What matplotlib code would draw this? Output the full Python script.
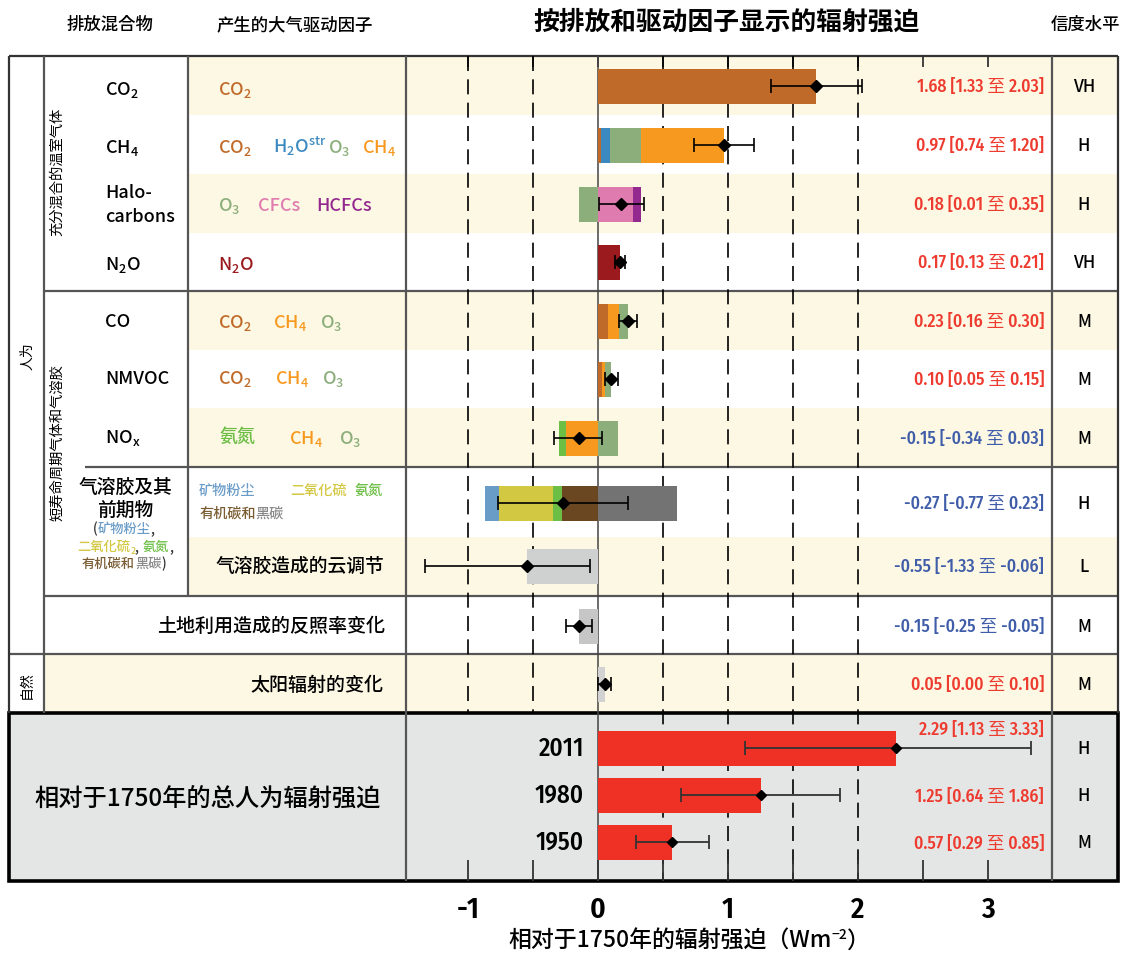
import numpy as np
import matplotlib
matplotlib.use('Agg')
import matplotlib.pyplot as plt
from matplotlib.patches import Rectangle
from matplotlib.ticker import FixedLocator, FixedFormatter
from matplotlib import font_manager

plt.rcParams['font.family'] = ['Noto Sans CJK SC', 'DejaVu Sans']
plt.rcParams['mathtext.fontset'] = 'custom'
plt.rcParams['mathtext.rm'] = 'Noto Sans CJK SC'
plt.rcParams['mathtext.it'] = 'Noto Sans CJK SC'
plt.rcParams['mathtext.bf'] = 'Noto Sans CJK SC:bold'
plt.rcParams['axes.unicode_minus'] = False

_names = {f.name for f in font_manager.fontManager.ttflist}
MEDF = ['Noto Sans CJK JP', 'Noto Sans CJK SC', 'DejaVu Sans']
CONDF = (['Fira Sans Condensed'] if 'Fira Sans Condensed' in _names else []) + \
    ['Noto Sans CJK SC', 'Noto Sans CJK JP', 'DejaVu Sans']
MW = 500

# ---------------- data ----------------
row_names = ['CO2', 'CH4', 'Halocarbons', 'N2O', 'CO', 'NMVOC', 'NOx',
             'Aerosols', 'Cloud', 'Albedo', 'Solar']
best = [1.68, 0.97, 0.18, 0.17, 0.23, 0.10, -0.15, -0.27, -0.55, -0.15, 0.05]
low = [1.33, 0.74, 0.01, 0.13, 0.16, 0.05, -0.34, -0.77, -1.33, -0.25, 0.00]
high = [2.03, 1.20, 0.35, 0.21, 0.30, 0.15, 0.03, 0.23, -0.06, -0.05, 0.10]
confidence = ['VH', 'H', 'H', 'VH', 'M', 'M', 'M', 'H', 'L', 'M', 'M']

# stacked components, listed left to right
comp_co2 = [1.68]
comp_ch4 = [0.02, 0.07, 0.24, 0.64]          # CO2, H2Ostr, O3, CH4
comp_halo = [-0.15, 0.27, 0.06]              # O3, CFCs, HCFCs
comp_n2o = [0.17]
comp_co = [0.08, 0.08, 0.07]                 # CO2, CH4, O3
comp_nmvoc = [0.03, 0.025, 0.045]            # CO2, CH4, O3
comp_nox = [-0.05, -0.25, 0.15]              # nitrate, CH4, O3
comp_aer = [-0.11, -0.41, -0.07, -0.28, 0.61]  # dust, sulphate, nitrate, OC, BC
comp_cloud = [-0.55]
comp_albedo = [-0.15]
comp_solar = [0.05]
components = [comp_co2, comp_ch4, comp_halo, comp_n2o, comp_co, comp_nmvoc,
              comp_nox, comp_aer, comp_cloud, comp_albedo, comp_solar]

years = ['2011', '1980', '1950']
total_best = [2.29, 1.25, 0.57]
total_low = [1.13, 0.64, 0.29]
total_high = [3.33, 1.86, 0.85]
total_conf = ['H', 'H', 'M']

tick_values = [-1, 0, 1, 2, 3]
tick_labels = ['-1', '0', '1', '2', '3']

# ---------------- styles ----------------
C_CO2 = '#C06A29'
C_H2O = '#3A89C0'
C_O3 = '#8BAE7B'
C_CH4 = '#F7991F'
C_CFC = '#E07BB0'
C_HCFC = '#93288F'
C_N2O = '#9A1A1E'
C_NIT = '#6CBE45'
C_DUST = '#6A9CC8'
C_SUL = '#D3C842'
C_OC = '#6B4721'
C_BC = '#737373'
comp_colors = [[C_CO2], [C_CO2, C_H2O, C_O3, C_CH4], [C_O3, C_CFC, C_HCFC], [C_N2O],
               [C_CO2, C_CH4, C_O3], [C_CO2, C_CH4, C_O3], [C_NIT, C_CH4, C_O3],
               [C_DUST, C_SUL, C_NIT, C_OC, C_BC], ['#CFD0D0'], ['#C6C6C6'], ['#D2D2D2']]
RED_T = '#EE3B2F'
BLUE_T = '#3F5DA8'
CREAM = '#FDF8E3'
PANEL = '#E4E5E5'
LINEC = '#555555'

W, H = 1124, 954
row_edges = [57, 116, 175, 234, 292, 351, 409, 468, 538, 597, 655, 714]
row_y = [87, 146, 205, 263, 322, 380, 439, 504, 567, 627, 685]
year_y = [749, 796, 843]
X0, PXU = 598, 130.0

fig = plt.figure(figsize=(W / 100, H / 100), dpi=100)
bg = fig.add_axes([0, 0, 1, 1])
bg.set_xlim(0, W)
bg.set_ylim(H, 0)
bg.axis('off')
renderer = fig.canvas.get_renderer()

# row backgrounds
for i in [0, 2, 4, 6, 8]:
    bg.add_patch(Rectangle((188, row_edges[i]), 1118 - 188, row_edges[i + 1] - row_edges[i],
                           facecolor=CREAM, lw=0, zorder=0))
bg.add_patch(Rectangle((44, 655), 1118 - 44, 714 - 655, facecolor=CREAM, lw=0, zorder=0))
bg.add_patch(Rectangle((9, 714), 1118 - 9, 882 - 714, facecolor=PANEL, edgecolor='black',
                       lw=2.6, zorder=1))


def hline(y, x0, x1, lw=1.6, c=LINEC, z=2):
    bg.plot([x0, x1], [y, y], color=c, lw=lw, solid_capstyle='butt', zorder=z)


def vline(x, y0, y1, lw=1.6, c=LINEC, z=2):
    bg.plot([x, x], [y0, y1], color=c, lw=lw, solid_capstyle='butt', zorder=z)


hline(57, 9, 1118, c='#333333')
hline(292, 44, 1118)
hline(468, 85, 1118)
hline(597, 44, 1118)
hline(655, 9, 1118)
vline(9, 57, 714, c='#333333')
vline(1118, 57, 714, c='#333333')
vline(44, 57, 714)
vline(188, 57, 597)
vline(406, 57, 882, z=3)
vline(1052, 57, 882, z=3)

# ---------------- data axes ----------------
ax = fig.add_axes([406 / W, (H - 882) / H, (1052 - 406) / W, (882 - 57) / H])
ax.set_facecolor('none')
ax.set_xlim((406 - X0) / PXU, (1052 - X0) / PXU)
ax.set_ylim(882, 57)
for s in ax.spines.values():
    s.set_visible(False)
ax.set_yticks([])
ax.xaxis.set_major_locator(FixedLocator(tick_values))
ax.xaxis.set_major_formatter(FixedFormatter(tick_labels))
ax.xaxis.set_minor_locator(FixedLocator([-0.5, 0.5, 1.5, 2.5]))
ax.tick_params(axis='x', which='both', direction='in', length=15, width=1.3, color='#333333',
               bottom=True, top=False, pad=10)
for lab in ax.get_xticklabels():
    lab.set_fontsize(21)
    lab.set_family(CONDF)
    lab.set_fontweight(600)
sec = ax.secondary_xaxis('top')
sec.xaxis.set_major_locator(FixedLocator([-1, -0.5, 0, 0.5, 1, 1.5, 2, 2.5, 3]))
sec.xaxis.set_major_formatter(FixedFormatter([''] * 9))
sec.tick_params(axis='x', direction='in', length=8, width=1.3, color='#333333')
sec.spines['top'].set_visible(False)

# grid dashes
ax.vlines([-1, -0.5], 57, 714, colors='black', lw=1.2, linestyles=(0, (9, 5)), zorder=1)
ax.vlines([0.5, 1, 1.5, 2], 57, 882, colors='black', lw=1.2, linestyles=(0, (9, 5)), zorder=1)
ax.vlines([0], 57, 882, colors='#444444', lw=1.1, zorder=1)

# stacked bars
for comps, cols, yy in zip(components, comp_colors, row_y):
    start = sum(v for v in comps if v < 0)
    for v, c in zip(comps, cols):
        ax.barh(yy, abs(v), left=start, height=35, color=c, lw=0, zorder=2)
        start += abs(v)
ax.errorbar(best, row_y, xerr=[np.subtract(best, low), np.subtract(high, best)], fmt='D',
            color='black', ms=6, capsize=5, elinewidth=1.2, capthick=1.2, zorder=4)

ax.barh(year_y, total_best, height=35, color='#EE3124', lw=0, zorder=2)
ax.errorbar(total_best, year_y, xerr=[np.subtract(total_best, total_low),
                                      np.subtract(total_high, total_best)],
            fmt='D', color='black', ecolor='#333333', ms=5, capsize=5, elinewidth=1.3,
            capthick=1.3, zorder=4)


# ---------------- texts ----------------
def T(x, y, s, size, **kw):
    kw.setdefault('family', MEDF)
    kw.setdefault('fontweight', MW)
    kw.setdefault('zorder', 5)
    return bg.text(x, y, s, fontsize=size, **kw)


def pieces(x, y, parts, size, ha='left'):
    texts = []
    cx = x
    for p in parts:
        s, c = p[0], p[1]
        dy = p[2] if len(p) > 2 else 0
        sz = p[3] if len(p) > 3 else size
        t = T(cx, y + dy, s, sz, color=c, ha='left', va='baseline')
        cx += t.get_window_extent(renderer).width
        texts.append(t)
    tot = cx - x
    shift = {'left': 0, 'center': -tot / 2, 'right': -tot}[ha]
    if shift:
        for t in texts:
            px, py = t.get_position()
            t.set_x(px + shift)
    return texts


# headers
T(110, 25, '排放混合物', 12.5, ha='center', va='center')
T(295, 25, '产生的大气驱动因子', 12.5, ha='center', va='center')
T(727, 22, '按排放和驱动因子显示的辐射强迫', 18.5, ha='center', va='center', fontweight='bold')
T(1085, 25, '信度水平', 12.5, ha='center', va='center')

# side labels
T(27, 356, '人为', 10, rotation=90, ha='center', va='center', fontweight=400)
T(27, 685, '自然', 10, rotation=90, ha='center', va='center', fontweight=400)
T(57, 172, '充分混合的温室气体', 10.3, rotation=90, ha='center', va='center', fontweight=400)
T(57, 443, '短寿命周期气体和气溶胶', 10.3, rotation=90, ha='center', va='center', fontweight=400)

# emitted compound labels
FS = 13
compound_labels = [r'$\mathregular{CO_2}$', r'$\mathregular{CH_4}$', None,
                   r'$\mathregular{N_2O}$', 'CO', 'NMVOC', r'$\mathregular{NO_x}$']
compound_base = [95, 153, None, 270, 327, 384, 443]
for lab, yb in zip(compound_labels, compound_base):
    if lab is not None:
        T(105, yb, lab, FS, ha='left', va='baseline')
T(105, 198, 'Halo-', FS, ha='left', va='baseline')
T(105, 222, 'carbons', FS, ha='left', va='baseline')

# aerosol compound label
T(125, 487, '气溶胶及其', 13.5, ha='center', va='center')
T(125, 510, '前期物', 13.5, ha='center', va='center')
pieces(124, 533, [('(', '#333333'), ('矿物粉尘', C_DUST), (',', '#333333')], 9.5, ha='center')
pieces(125, 551, [('二氧化硫', C_SUL), ('2', C_SUL, 3, 6.5), (', ', '#333333'),
                  ('氨氮', C_NIT), (',', '#333333')], 9.5, ha='center')
pieces(124, 568, [('有机碳和', '#7A5C32'), ('黑碳', '#8A8A8A'), (')', '#333333')], 9.5,
       ha='center')

# driver labels
CO2m = r'$\mathregular{CO_2}$'
CH4m = r'$\mathregular{CH_4}$'
O3m = r'$\mathregular{O_3}$'
driver_rows = [
    (95, [(218, CO2m, C_CO2)]),
    (153, [(218, CO2m, C_CO2), (273, r'$\mathregular{H_2O^{str}}$', C_H2O),
           (328, O3m, C_O3), (362, CH4m, C_CH4)]),
    (211, [(218, O3m, C_O3), (258, 'CFCs', C_CFC), (316, 'HCFCs', C_HCFC)]),
    (270, [(218, r'$\mathregular{N_2O}$', C_N2O)]),
    (328, [(218, CO2m, C_CO2), (273, CH4m, C_CH4), (320, O3m, C_O3)]),
    (384, [(218, CO2m, C_CO2), (275, CH4m, C_CH4), (322, O3m, C_O3)]),
    (444, [(289, CH4m, C_CH4), (339, O3m, C_O3)]),
]
for yb, items in driver_rows:
    for x, s, c in items:
        T(x, yb, s, FS, color=c, ha='left', va='baseline')
T(220, 437, '氨氮', FS, color=C_NIT, ha='left', va='center')

T(199, 491, '矿物粉尘', 10.2, color=C_DUST, ha='left', va='center')
T(290, 491, '二氧化硫', 10.2, color=C_SUL, ha='left', va='center')
T(355, 491, '氨氮', 10.2, color=C_NIT, ha='left', va='center')
pieces(199, 518, [('有机碳和', '#7A5C32'), ('黑碳', '#8A8A8A')], 10.2)

T(300, 566, '气溶胶造成的云调节', 13.5, ha='center', va='center')
T(385, 626, '土地利用造成的反照率变化', 13.7, ha='right', va='center')
T(383, 685, '太阳辐射的变化', 13.7, ha='right', va='center')

# values and confidence
for b, lo, hi, conf, yy in zip(best, low, high, confidence, row_y):
    col = RED_T if b > 0 else BLUE_T
    T(1044, yy, f'{b:.2f} [{lo:.2f} 至 {hi:.2f}]', 12.8, color=col, family=CONDF,
      fontweight=500, ha='right', va='center')
    T(1084, yy, conf, 12, ha='center', va='center')

total_text_y = [730, 797, 844]
for b, lo, hi, conf, yy, ty in zip(total_best, total_low, total_high, total_conf, year_y,
                                    total_text_y):
    T(1044, ty, f'{b:.2f} [{lo:.2f} 至 {hi:.2f}]', 12.8, color=RED_T, family=CONDF,
      fontweight=500, ha='right', va='center')
    T(1084, yy, conf, 12, ha='center', va='center')

for yr, yy in zip(years, year_y):
    T(584, yy, yr, 18, family=CONDF, fontweight=500, ha='right', va='center')

T(208, 800, '相对于1750年的总人为辐射强迫', 17.5, ha='center', va='center')

# x label
pieces(689, 948, [('相对于1750年的辐射强迫（Wm', 'black'), ('−2', 'black', -9, 10),
                  ('）', 'black')], 16.5, ha='center')

fig.savefig('out.png', dpi=100)
